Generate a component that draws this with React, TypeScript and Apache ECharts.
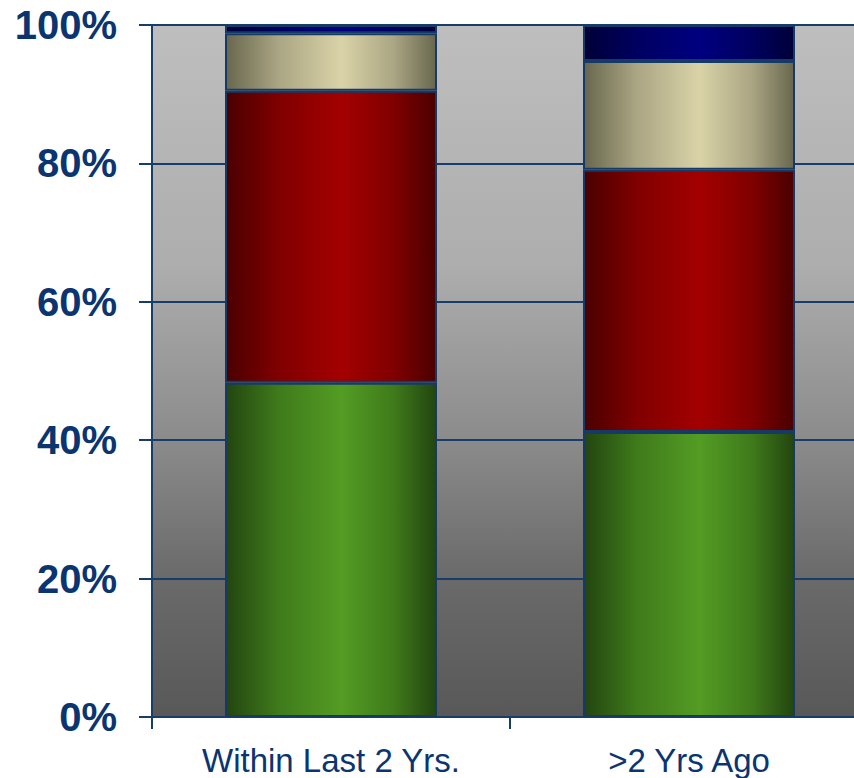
import React, { useEffect, useRef } from "react";
import * as echarts from "echarts";

const categories = ["Within Last 2 Yrs.", ">2 Yrs Ago"];
const greenValues = [48.3, 41.2];
const redValues = [42.2, 37.9];
const tanValues = [8.3, 15.7];
const blueValues = [1.2, 5.2];

const NAVY = "#0a3570";
const LINE = "#173d6b";

function hGrad(edge: string, mid1: string, center: string) {
  return new echarts.graphic.LinearGradient(0, 0, 1, 0, [
    { offset: 0, color: edge },
    { offset: 0.25, color: mid1 },
    { offset: 0.55, color: center },
    { offset: 0.8, color: mid1 },
    { offset: 1, color: edge },
  ]);
}

export default function App() {
  const ref = useRef<HTMLDivElement>(null);
  useEffect(() => {
    if (!ref.current) return;
    const chart = echarts.init(ref.current, undefined, { renderer: "svg" });
    const mkSeries = (name: string, data: number[], color: any) => ({
      name,
      type: "bar",
      stack: "total",
      data,
      barWidth: 212,
      itemStyle: { color, borderColor: "#163a66", borderWidth: 2 },
      emphasis: { disabled: true },
    });
    chart.setOption({
      animation: false,
      grid: {
        left: 152,
        top: 25,
        bottom: 61,
        right: 12,
        show: true,
        borderWidth: 0,
        backgroundColor: new echarts.graphic.LinearGradient(0, 0, 0, 1, [
          { offset: 0, color: "#bebebe" },
          { offset: 0.35, color: "#adadad" },
          { offset: 0.6, color: "#8b8b8b" },
          { offset: 0.8, color: "#6a6a6a" },
          { offset: 1, color: "#585858" },
        ]),
      },
      xAxis: {
        type: "category",
        data: categories,
        axisLine: { show: true, lineStyle: { color: LINE, width: 2 } },
        axisTick: { show: true, length: 12, lineStyle: { color: LINE, width: 2 } },
        axisLabel: {
          fontSize: 33,
          color: NAVY,
          fontFamily: "Liberation Sans, Arial, sans-serif",
          margin: 27,
        },
      },
      yAxis: {
        type: "value",
        min: 0,
        max: 100,
        interval: 20,
        axisLine: { show: true, lineStyle: { color: LINE, width: 2 } },
        axisTick: { show: true, length: 13, lineStyle: { color: LINE, width: 2 } },
        splitLine: { show: true, lineStyle: { color: LINE, width: 2 } },
        axisLabel: {
          formatter: "{value}%",
          fontSize: 40,
          fontWeight: "bold",
          color: NAVY,
          fontFamily: "Liberation Sans, Arial, sans-serif",
          margin: 35,
        },
      },
      series: [
        mkSeries("green", greenValues, hGrad("#234510", "#3f7a1b", "#549c24")),
        mkSeries("red", redValues, hGrad("#4a0000", "#800000", "#a40000")),
        mkSeries("tan", tanValues, hGrad("#68674e", "#aaa583", "#dad3a8")),
        mkSeries("blue", blueValues, hGrad("#000038", "#000060", "#000080")),
      ],
    });
    return () => chart.dispose();
  }, []);
  return (
    <div
      style={{
        position: "fixed",
        left: 0,
        top: 0,
        width: 854,
        height: 778,
        overflow: "hidden",
        background: "#fff",
      }}
    >
      <div ref={ref} style={{ width: 880, height: 778 }} />
    </div>
  );
}
